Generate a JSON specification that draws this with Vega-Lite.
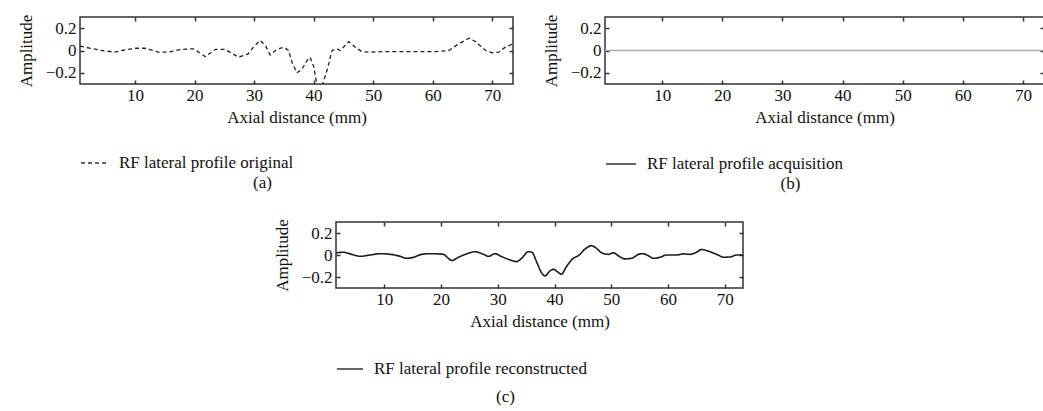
{
  "$schema": "https://vega.github.io/schema/vega-lite/v6.json",
  "padding": {"top": 13, "left": 16, "right": 0, "bottom": 0},
  "background": "white",
  "config": {
    "font": "Liberation Serif",
    "view": {"stroke": "#333", "strokeWidth": 1.5},
    "axis": {
      "domain": false, "grid": false, "tickSize": -4, "tickColor": "#333", "tickWidth": 1.5,
      "labelFont": "Liberation Serif", "labelFontSize": 17, "labelColor": "#111",
      "titleFont": "Liberation Serif", "titleFontSize": 17, "titleFontWeight": "normal", "titleColor": "#111"
    },
    "axisX": {"labelPadding": 7, "titlePadding": 6},
    "axisY": {"labelPadding": 8, "titlePadding": 10},
    "legend": {
      "orient": "none", "legendX": 0, "symbolType": "stroke", "symbolStrokeWidth": 1.5, "labelLimit": 500,
      "symbolStrokeColor": "#333", "labelFontSize": 17, "labelFont": "Liberation Serif", "labelColor": "#111", "padding": 0
    },
    "title": {"fontSize": 17, "fontWeight": "normal", "font": "Liberation Serif", "color": "#111"}
  },
  "spacing": 24,
  "resolve": {"scale": {"strokeDash": "independent"}, "legend": {"strokeDash": "independent"}},
  "vconcat": [
    {
      "spacing": 24,
      "resolve": {"scale": {"strokeDash": "independent"}, "legend": {"strokeDash": "independent"}},
      "hconcat": [
        {
          "width": 433, "height": 67,
          "data": {"values": [
            {"x": 0.75, "y": 0.04, "series": "RF lateral profile original"},
            {"x": 2.5, "y": 0.02, "series": "RF lateral profile original"},
            {"x": 4.4, "y": 0, "series": "RF lateral profile original"},
            {"x": 6.6, "y": -0.015, "series": "RF lateral profile original"},
            {"x": 7.8, "y": 0, "series": "RF lateral profile original"},
            {"x": 10, "y": 0.02, "series": "RF lateral profile original"},
            {"x": 11.7, "y": 0.02, "series": "RF lateral profile original"},
            {"x": 14, "y": -0.015, "series": "RF lateral profile original"},
            {"x": 15.6, "y": -0.015, "series": "RF lateral profile original"},
            {"x": 17.8, "y": 0.01, "series": "RF lateral profile original"},
            {"x": 19.8, "y": 0.015, "series": "RF lateral profile original"},
            {"x": 20.7, "y": -0.015, "series": "RF lateral profile original"},
            {"x": 21.8, "y": -0.055, "series": "RF lateral profile original"},
            {"x": 23.5, "y": 0.01, "series": "RF lateral profile original"},
            {"x": 25.1, "y": 0.01, "series": "RF lateral profile original"},
            {"x": 27.4, "y": -0.06, "series": "RF lateral profile original"},
            {"x": 29, "y": -0.03, "series": "RF lateral profile original"},
            {"x": 29.9, "y": 0.03, "series": "RF lateral profile original"},
            {"x": 31, "y": 0.09, "series": "RF lateral profile original"},
            {"x": 31.9, "y": 0.045, "series": "RF lateral profile original"},
            {"x": 32.7, "y": -0.04, "series": "RF lateral profile original"},
            {"x": 33.8, "y": 0.01, "series": "RF lateral profile original"},
            {"x": 35, "y": 0.03, "series": "RF lateral profile original"},
            {"x": 35.8, "y": 0, "series": "RF lateral profile original"},
            {"x": 36.4, "y": -0.11, "series": "RF lateral profile original"},
            {"x": 37.2, "y": -0.2, "series": "RF lateral profile original"},
            {"x": 38, "y": -0.17, "series": "RF lateral profile original"},
            {"x": 38.9, "y": -0.09, "series": "RF lateral profile original"},
            {"x": 39.4, "y": -0.06, "series": "RF lateral profile original"},
            {"x": 40, "y": -0.14, "series": "RF lateral profile original"},
            {"x": 40.6, "y": -0.32, "series": "RF lateral profile original"},
            {"x": 41.4, "y": -0.32, "series": "RF lateral profile original"},
            {"x": 42.3, "y": -0.17, "series": "RF lateral profile original"},
            {"x": 43.1, "y": 0, "series": "RF lateral profile original"},
            {"x": 43.9, "y": 0.015, "series": "RF lateral profile original"},
            {"x": 44.5, "y": 0, "series": "RF lateral profile original"},
            {"x": 45.9, "y": 0.08, "series": "RF lateral profile original"},
            {"x": 47, "y": 0.03, "series": "RF lateral profile original"},
            {"x": 48.1, "y": -0.01, "series": "RF lateral profile original"},
            {"x": 49.2, "y": -0.015, "series": "RF lateral profile original"},
            {"x": 52, "y": -0.01, "series": "RF lateral profile original"},
            {"x": 54.9, "y": -0.01, "series": "RF lateral profile original"},
            {"x": 60.5, "y": -0.01, "series": "RF lateral profile original"},
            {"x": 62.7, "y": 0, "series": "RF lateral profile original"},
            {"x": 64.4, "y": 0.06, "series": "RF lateral profile original"},
            {"x": 66.1, "y": 0.11, "series": "RF lateral profile original"},
            {"x": 67.2, "y": 0.08, "series": "RF lateral profile original"},
            {"x": 68.9, "y": 0, "series": "RF lateral profile original"},
            {"x": 70, "y": -0.02, "series": "RF lateral profile original"},
            {"x": 71.1, "y": -0.015, "series": "RF lateral profile original"},
            {"x": 72.2, "y": 0.03, "series": "RF lateral profile original"},
            {"x": 73.5, "y": 0.06, "series": "RF lateral profile original"}
          ]},
          "title": {"text": "(a)", "orient": "bottom", "frame": "group", "anchor": "middle", "dx": -34, "offset": 4},
          "resolve": {"axis": {"x": "independent", "y": "independent"}},
          "layer": [
            {
              "mark": {"type": "line", "color": "#222", "strokeWidth": 1.3, "clip": true},
              "encoding": {
                "x": {"field": "x", "type": "quantitative", "scale": {"domain": [0.75, 73.5], "nice": false, "zero": false},
                      "axis": {"values": [10, 20, 30, 40, 50, 60, 70], "title": "Axial distance (mm)"}},
                "y": {"field": "y", "type": "quantitative", "scale": {"domain": [-0.3, 0.3], "nice": false},
                      "axis": {"values": [-0.2, 0, 0.2], "format": "~g", "title": "Amplitude"}},
                "strokeDash": {"field": "series", "type": "nominal", "scale": {"range": [[4, 3]]},
                               "legend": {"title": null, "legendY": 131, "labelOffset": 9, "symbolSize": 784}}
              }
            },
            {
              "mark": {"type": "point", "opacity": 0},
              "encoding": {
                "x": {"field": "x", "type": "quantitative", "scale": {"domain": [0.75, 73.5], "nice": false, "zero": false},
                      "axis": {"orient": "top", "labels": false, "title": null, "values": [10, 20, 30, 40, 50, 60, 70]}},
                "y": {"field": "y", "type": "quantitative", "scale": {"domain": [-0.3, 0.3], "nice": false},
                      "axis": {"orient": "right", "labels": false, "title": null, "values": [-0.2, 0, 0.2]}}
              }
            }
          ]
        },
        {
          "width": 439, "height": 67,
          "data": {"values": [
            {"x": 0.5, "y": 0, "series": "RF lateral profile acquisition"},
            {"x": 73.5, "y": 0, "series": "RF lateral profile acquisition"}
          ]},
          "title": {"text": "(b)", "orient": "bottom", "frame": "group", "anchor": "middle", "dx": -34, "offset": 4},
          "resolve": {"axis": {"x": "independent", "y": "independent"}},
          "layer": [
            {
              "mark": {"type": "line", "color": "#aaa", "strokeWidth": 1.5, "clip": true},
              "encoding": {
                "x": {"field": "x", "type": "quantitative", "scale": {"domain": [0.5, 73.5], "nice": false, "zero": false},
                      "axis": {"values": [10, 20, 30, 40, 50, 60, 70], "title": "Axial distance (mm)"}},
                "y": {"field": "y", "type": "quantitative", "scale": {"domain": [-0.3, 0.3], "nice": false},
                      "axis": {"values": [-0.2, 0, 0.2], "format": "~g", "title": "Amplitude"}},
                "strokeDash": {"field": "series", "type": "nominal", "scale": {"range": [[1, 0]]},
                               "legend": {"title": null, "legendY": 131, "labelOffset": 10, "symbolSize": 900}}
              }
            },
            {
              "mark": {"type": "point", "opacity": 0},
              "encoding": {
                "x": {"field": "x", "type": "quantitative", "scale": {"domain": [0.5, 73.5], "nice": false, "zero": false},
                      "axis": {"orient": "top", "labels": false, "title": null, "values": [10, 20, 30, 40, 50, 60, 70]}},
                "y": {"field": "y", "type": "quantitative", "scale": {"domain": [-0.3, 0.3], "nice": false},
                      "axis": {"orient": "right", "labels": false, "title": null, "values": [-0.2, 0, 0.2]}}
              }
            }
          ]
        }
      ]
    },
    {
      "spacing": 0,
      "resolve": {"scale": {"strokeDash": "independent"}, "legend": {"strokeDash": "independent"}},
      "hconcat": [
        {
          "width": 192, "height": 1,
          "view": {"stroke": null},
          "data": {"values": []},
          "mark": "point"
        },
        {
          "width": 407, "height": 66,
          "data": {"values": [
            {"x": 1.55, "y": 0.02, "series": "RF lateral profile reconstructed"},
            {"x": 2.85, "y": 0.025, "series": "RF lateral profile reconstructed"},
            {"x": 4.0, "y": 0.01, "series": "RF lateral profile reconstructed"},
            {"x": 5.8, "y": -0.012, "series": "RF lateral profile reconstructed"},
            {"x": 7.5, "y": 0, "series": "RF lateral profile reconstructed"},
            {"x": 9.3, "y": 0.012, "series": "RF lateral profile reconstructed"},
            {"x": 11.1, "y": 0.006, "series": "RF lateral profile reconstructed"},
            {"x": 12.8, "y": -0.012, "series": "RF lateral profile reconstructed"},
            {"x": 14, "y": -0.03, "series": "RF lateral profile reconstructed"},
            {"x": 15.2, "y": -0.02, "series": "RF lateral profile reconstructed"},
            {"x": 16.6, "y": 0.006, "series": "RF lateral profile reconstructed"},
            {"x": 18.1, "y": 0.012, "series": "RF lateral profile reconstructed"},
            {"x": 20.4, "y": 0.006, "series": "RF lateral profile reconstructed"},
            {"x": 21.3, "y": -0.03, "series": "RF lateral profile reconstructed"},
            {"x": 21.9, "y": -0.05, "series": "RF lateral profile reconstructed"},
            {"x": 23.1, "y": -0.02, "series": "RF lateral profile reconstructed"},
            {"x": 24.5, "y": 0.01, "series": "RF lateral profile reconstructed"},
            {"x": 26, "y": 0.03, "series": "RF lateral profile reconstructed"},
            {"x": 27.5, "y": 0.006, "series": "RF lateral profile reconstructed"},
            {"x": 28.4, "y": -0.012, "series": "RF lateral profile reconstructed"},
            {"x": 29.5, "y": 0.012, "series": "RF lateral profile reconstructed"},
            {"x": 30.7, "y": -0.015, "series": "RF lateral profile reconstructed"},
            {"x": 32.2, "y": -0.045, "series": "RF lateral profile reconstructed"},
            {"x": 33.3, "y": -0.06, "series": "RF lateral profile reconstructed"},
            {"x": 34.2, "y": -0.03, "series": "RF lateral profile reconstructed"},
            {"x": 35.4, "y": 0.03, "series": "RF lateral profile reconstructed"},
            {"x": 36, "y": 0.025, "series": "RF lateral profile reconstructed"},
            {"x": 36.9, "y": -0.07, "series": "RF lateral profile reconstructed"},
            {"x": 37.7, "y": -0.16, "series": "RF lateral profile reconstructed"},
            {"x": 38.3, "y": -0.19, "series": "RF lateral profile reconstructed"},
            {"x": 39.2, "y": -0.145, "series": "RF lateral profile reconstructed"},
            {"x": 39.8, "y": -0.13, "series": "RF lateral profile reconstructed"},
            {"x": 40.7, "y": -0.16, "series": "RF lateral profile reconstructed"},
            {"x": 41.2, "y": -0.175, "series": "RF lateral profile reconstructed"},
            {"x": 42.1, "y": -0.105, "series": "RF lateral profile reconstructed"},
            {"x": 43.3, "y": -0.03, "series": "RF lateral profile reconstructed"},
            {"x": 44.2, "y": -0.006, "series": "RF lateral profile reconstructed"},
            {"x": 45.4, "y": 0.055, "series": "RF lateral profile reconstructed"},
            {"x": 46.5, "y": 0.085, "series": "RF lateral profile reconstructed"},
            {"x": 47.4, "y": 0.06, "series": "RF lateral profile reconstructed"},
            {"x": 48.3, "y": 0.02, "series": "RF lateral profile reconstructed"},
            {"x": 49.5, "y": 0.006, "series": "RF lateral profile reconstructed"},
            {"x": 50.4, "y": 0.02, "series": "RF lateral profile reconstructed"},
            {"x": 51.2, "y": -0.006, "series": "RF lateral profile reconstructed"},
            {"x": 52.4, "y": -0.035, "series": "RF lateral profile reconstructed"},
            {"x": 53.6, "y": -0.03, "series": "RF lateral profile reconstructed"},
            {"x": 54.8, "y": 0.006, "series": "RF lateral profile reconstructed"},
            {"x": 55.6, "y": 0.012, "series": "RF lateral profile reconstructed"},
            {"x": 56.5, "y": -0.006, "series": "RF lateral profile reconstructed"},
            {"x": 57.4, "y": -0.03, "series": "RF lateral profile reconstructed"},
            {"x": 58.6, "y": -0.02, "series": "RF lateral profile reconstructed"},
            {"x": 59.7, "y": 0, "series": "RF lateral profile reconstructed"},
            {"x": 61.5, "y": 0, "series": "RF lateral profile reconstructed"},
            {"x": 62.7, "y": 0.01, "series": "RF lateral profile reconstructed"},
            {"x": 63.9, "y": 0.006, "series": "RF lateral profile reconstructed"},
            {"x": 65, "y": 0.025, "series": "RF lateral profile reconstructed"},
            {"x": 65.9, "y": 0.05, "series": "RF lateral profile reconstructed"},
            {"x": 67.4, "y": 0.03, "series": "RF lateral profile reconstructed"},
            {"x": 68.8, "y": 0, "series": "RF lateral profile reconstructed"},
            {"x": 69.7, "y": -0.02, "series": "RF lateral profile reconstructed"},
            {"x": 70.9, "y": -0.018, "series": "RF lateral profile reconstructed"},
            {"x": 72.1, "y": 0, "series": "RF lateral profile reconstructed"},
            {"x": 73.1, "y": 0, "series": "RF lateral profile reconstructed"}
          ]},
          "title": {"text": "(c)", "orient": "bottom", "frame": "group", "anchor": "middle", "dx": -34, "offset": 12},
          "resolve": {"axis": {"x": "independent", "y": "independent"}},
          "layer": [
            {
              "mark": {"type": "line", "color": "#1a1a1a", "strokeWidth": 1.6, "interpolate": "monotone", "clip": true},
              "encoding": {
                "x": {"field": "x", "type": "quantitative", "scale": {"domain": [1.5, 73.2], "nice": false, "zero": false},
                      "axis": {"values": [10, 20, 30, 40, 50, 60, 70], "title": "Axial distance (mm)"}},
                "y": {"field": "y", "type": "quantitative", "scale": {"domain": [-0.3, 0.3], "nice": false},
                      "axis": {"values": [-0.2, 0, 0.2], "format": "~g", "title": "Amplitude"}},
                "strokeDash": {"field": "series", "type": "nominal", "scale": {"range": [[1, 0]]},
                               "legend": {"title": null, "legendY": 133, "labelOffset": 10, "symbolSize": 676}}
              }
            },
            {
              "mark": {"type": "point", "opacity": 0},
              "encoding": {
                "x": {"field": "x", "type": "quantitative", "scale": {"domain": [1.5, 73.2], "nice": false, "zero": false},
                      "axis": {"orient": "top", "labels": false, "title": null, "values": [10, 20, 30, 40, 50, 60, 70]}},
                "y": {"field": "y", "type": "quantitative", "scale": {"domain": [-0.3, 0.3], "nice": false},
                      "axis": {"orient": "right", "labels": false, "title": null, "values": [-0.2, 0, 0.2]}}
              }
            }
          ]
        }
      ]
    }
  ]
}
